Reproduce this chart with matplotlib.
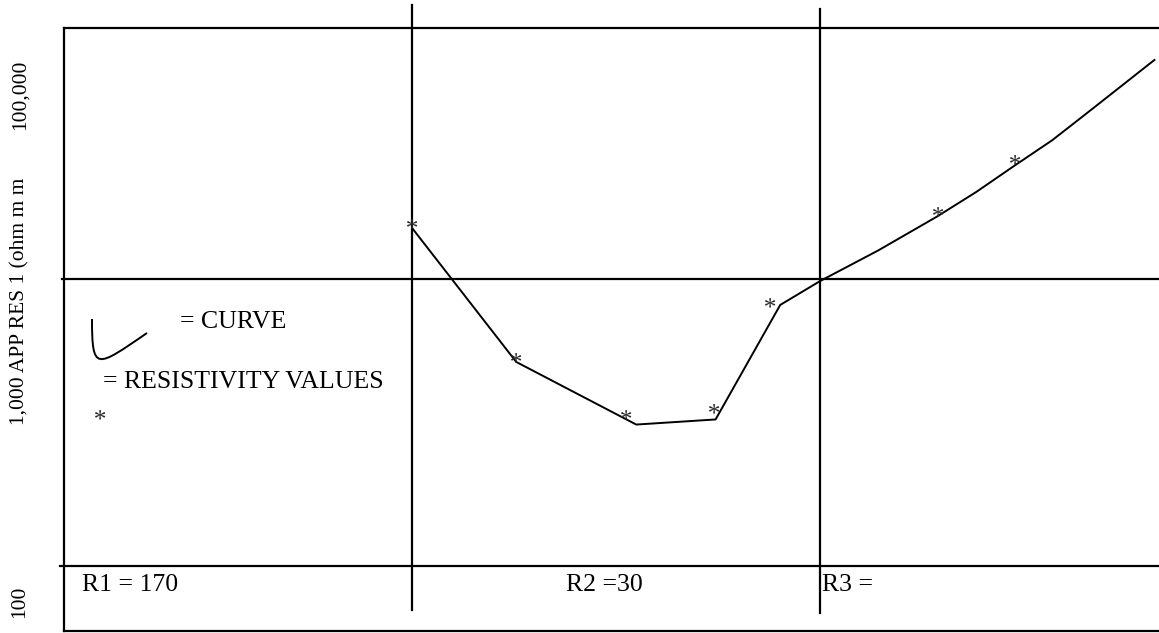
import numpy as np
import matplotlib
matplotlib.use("Agg")
import matplotlib.pyplot as plt
from matplotlib.path import Path
from matplotlib.patches import PathPatch
from matplotlib.textpath import TextPath
from matplotlib.font_manager import FontProperties
from matplotlib.transforms import IdentityTransform

# ---- data (electrode spacing vs apparent resistivity) ----
curve_spacing = [10, 17.98, 35.4, 55.4, 79.8, 100, 138.7, 193.2, 241.3, 299.4, 370.0, 446.1, 545.0, 659.8]
curve_res = [1502, 514, 311, 324, 812, 984, 1257, 1649, 2010, 2482, 3040, 3741, 4680, 5798]
point_spacing = [9.94, 17.9, 33.3, 54.6, 75.1, 193.2, 299.4]
point_res = [1521, 519, 327, 343, 805, 1671, 2530]
layer_bounds = [10, 100]
grid_res = [100, 1000]
layer_labels = ["R1 = 170", "R2 =30", "R3 ="]
ytick_labels = ["100", "1,000 APP RES 1 (ohm m m", "100,000"]
legend_labels = ["= CURVE", "= RESISTIVITY VALUES"]

W, H = 1159, 633
plt.rcParams['font.family'] = ['Liberation Serif', 'DejaVu Serif']
fig = plt.figure(figsize=(W / 100, H / 100), dpi=100)

# axes box in pixels: left 64, right 1159, top 28, bottom 631
ax = fig.add_axes([64 / W, (H - 631) / H, (W - 64) / W, (631 - 28) / H])
ax.set_xscale('log')
ax.set_yscale('log')
ax.set_xlim(1.40, 677)
ax.set_ylim(59.35, 7491)
ax.set_xticks([]); ax.set_yticks([])
ax.xaxis.set_minor_locator(matplotlib.ticker.NullLocator())
ax.yaxis.set_minor_locator(matplotlib.ticker.NullLocator())
for s in ['left', 'top', 'bottom']:
    ax.spines[s].set_linewidth(1.6)
ax.spines['right'].set_visible(False)

# grid / layer lines
ax.axvline(layer_bounds[0], ymin=0.0348, ymax=1.038, color='black', lw=1.6, clip_on=False)
ax.axvline(layer_bounds[1], ymin=0.0299, ymax=1.031, color='black', lw=1.6, clip_on=False)
ax.axhline(grid_res[1], xmin=-0.002, xmax=1.0, color='black', lw=1.6, clip_on=False)
ax.axhline(grid_res[0], xmin=-0.004, xmax=1.0, color='black', lw=1.6, clip_on=False)

# curve
ax.plot(curve_spacing, curve_res, color='black', lw=1.4, solid_joinstyle='miter')

# asterisk marker from serif font glyph, centered
fp = FontProperties(family='Liberation Serif')
tp = TextPath((0, 0), '*', prop=fp, size=10)
v = tp.vertices.copy()
c = (v.min(axis=0) + v.max(axis=0)) / 2
star = Path(v - c, tp.codes)
mk = dict(linestyle='none', marker=star, markersize=12,
          markerfacecolor='#2a2a2a', markeredgecolor='#2a2a2a', markeredgewidth=0.0)
ax.plot(point_spacing, point_res, **mk)

# y labels (rotated)
fs_lab = 15.5
fig.text(20 / W, 1 - 602 / H, ytick_labels[0], rotation=90, ha='center', va='center', fontsize=fs_lab)
fig.text(20 / W, 1 - 301 / H, ytick_labels[1], rotation=90, ha='center', va='center', fontsize=fs_lab)
fig.text(20 / W, 1 - 95 / H, ytick_labels[2], rotation=90, ha='center', va='center', fontsize=fs_lab)

# bottom layer labels
fs = 18.5
fig.text(82 / W, 1 - 585 / H, layer_labels[0], ha='left', va='center', fontsize=fs)
fig.text(566 / W, 1 - 585 / H, layer_labels[1], ha='left', va='center', fontsize=fs)
fig.text(822 / W, 1 - 585 / H, layer_labels[2], ha='left', va='center', fontsize=fs)

# legend
fig.text(180 / W, 1 - 322 / H, legend_labels[0], ha='left', va='center', fontsize=fs)
fig.text(103 / W, 1 - 382 / H, legend_labels[1], ha='left', va='center', fontsize=fs)
hook = Path([(92, H - 319), (92, H - 372), (96, H - 368), (147, H - 333)],
            [Path.MOVETO, Path.CURVE4, Path.CURVE4, Path.CURVE4])
fig.patches.append(PathPatch(hook, transform=IdentityTransform(), fill=False, lw=1.4, color='black'))
fig.lines.append(matplotlib.lines.Line2D([99 / W], [1 - 418 / H], transform=fig.transFigure, **mk))

fig.savefig('out.png', dpi=100)
